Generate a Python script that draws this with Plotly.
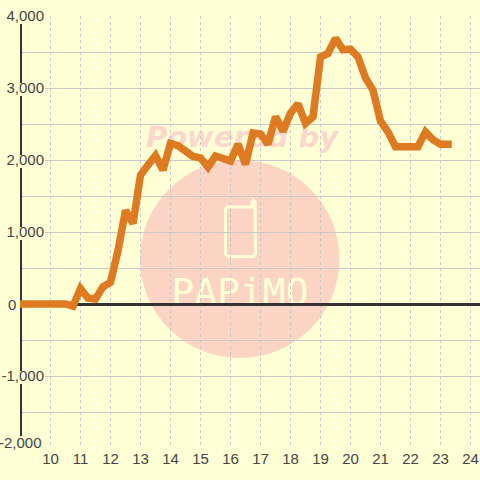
import plotly.graph_objects as go

hours = [9 + i / 4 for i in range(58)]
values = [0, 0, 0, 0, 0, 0, 0, -30, 215, 80, 70, 240, 300, 740, 1300, 1120,
          1790, 1930, 2060, 1860, 2230, 2200, 2140, 2050, 2030, 1900, 2055, 2030,
          1985, 2220, 1940, 2375, 2360, 2220, 2600, 2400, 2650, 2780, 2510, 2600,
          3430, 3480, 3690, 3530, 3540, 3430, 3140, 2970, 2540, 2390, 2185, 2185,
          2185, 2185, 2390, 2280, 2220, 2220]
x_ticks = list(range(10, 25))
y_major = [4000, 3000, 2000, 1000, 0, -1000, -2000]
y_labels = ["4,000", "3,000", "2,000", "1,000", "", "-1,000", ""]
y_minor = [3500, 2500, 1500, 500, -500, -1500]
axis_y = [3889, 3069, None, 2889, 2069, None, 1889, 1069, None, 889, -931, None, -1111, -1833]
axis_x = [9 if v is not None else None for v in axis_y]

BG = "#ffffd5"
GRID = "#c8c8c8"
INK = "#444444"
DARK = "#333333"
PINK = "#fcd4c4"
FONT = "Liberation Sans"


def px(v):
    return v / 480


def py(v):
    return (448 - v) / 432


fig = go.Figure()
fig.add_trace(go.Scatter(x=[], y=[], xaxis="x", yaxis="y", showlegend=False, hoverinfo="skip"))
fig.add_trace(go.Scatter(x=axis_x, y=axis_y, xaxis="x2", yaxis="y2", mode="lines",
                         line=dict(color=DARK, width=3), cliponaxis=False,
                         showlegend=False, hoverinfo="skip"))
fig.add_trace(go.Scatter(x=hours, y=values, xaxis="x2", yaxis="y2", mode="lines",
                         line=dict(color="#de7a21", width=7.5), cliponaxis=False,
                         showlegend=False))

phone = [(225.5, 209), (227.5, 207), (252, 207), (252, 202), (253.5, 200.5), (255, 202),
         (255.5, 254), (253.5, 256.5), (228, 256.5), (225.5, 254), (225.5, 209)]
path = "M " + " L ".join(f"{px(a):.5f},{py(b):.5f}" for a, b in phone) + " Z"

shapes = [
    dict(type="circle", xref="paper", yref="paper", layer="below",
         x0=px(140), x1=px(339.5), y0=py(358), y1=py(160),
         fillcolor=PINK, line=dict(width=0)),
    dict(type="path", xref="paper", yref="paper", layer="below", path=path,
         line=dict(color=BG, width=3)),
    dict(type="rect", xref="paper", yref="paper", layer="below",
         x0=px(140), x1=px(344), y0=py(155), y1=py(115), line=dict(width=0),
         label=dict(text="<b><i>Powered by</i></b>", textposition="middle center",
                    font=dict(family="DejaVu Sans", size=29, color="#fcd8cc"))),
    dict(type="rect", xref="paper", yref="paper", layer="below",
         x0=px(160), x1=px(320), y0=py(310), y1=py(268), line=dict(width=0),
         label=dict(text="PAPiMO", textposition="middle center",
                    font=dict(family="DejaVu Sans Mono", size=38, color=BG))),
]

fig.update_layout(
    width=480, height=480, margin=dict(l=0, r=0, t=16, b=32, autoexpand=False),
    paper_bgcolor=BG, plot_bgcolor="rgba(0,0,0,0)", showlegend=False,
    font=dict(family=FONT, size=15, color=INK),
    shapes=shapes,
    xaxis=dict(domain=[px(45), 1], range=[10, 24], visible=False, anchor="y", fixedrange=True),
    yaxis=dict(range=[-2000, 4000], anchor="x", tickmode="array", tickvals=y_major,
               ticktext=y_labels, showgrid=True, gridcolor=GRID, gridwidth=1, zeroline=False,
               showline=False, ticks="", tickfont=dict(family=FONT, size=15, color=INK)),
    xaxis2=dict(domain=[px(20), 1], range=[8.9833, 24.3167], anchor="y2", tickmode="array",
                tickvals=x_ticks, ticktext=[str(t) for t in x_ticks], showgrid=True,
                gridcolor=GRID, gridwidth=1, griddash="3px,3px", zeroline=False, showline=False,
                ticks="", tickfont=dict(family=FONT, size=15, color=INK)),
    yaxis2=dict(range=[-2000, 4000], anchor="x2", tickmode="array", tickvals=y_minor,
                showticklabels=False, showgrid=True, gridcolor=GRID, gridwidth=1,
                zeroline=True, zerolinecolor=DARK, zerolinewidth=3, showline=False, ticks=""),
    annotations=[
        dict(x=px(45), xref="paper", xshift=-2, xanchor="right", y=-2000, yref="y",
             yshift=6, text="-2,000", showarrow=False, borderpad=0,
             font=dict(family=FONT, size=15, color=INK)),
        dict(x=px(17), xref="paper", xanchor="right", y=0, yref="y",
             text="0", showarrow=False, borderpad=0,
             font=dict(family=FONT, size=15, color=INK)),
    ],
)
post = ("document.documentElement.style.margin='0';document.body.style.margin='0';"
        "document.body.style.background='#ffffd5';"
        "var t=document.querySelectorAll('.scatterlayer .trace');"
        "t.forEach(function(e){var l=e.querySelector('.js-line');"
        "if(l&&l.style.stroke.indexOf('222')>=0){l.style.strokeLinecap='square';}});")
fig.write_html("out.html", config=dict(displayModeBar=False), post_script=post)
